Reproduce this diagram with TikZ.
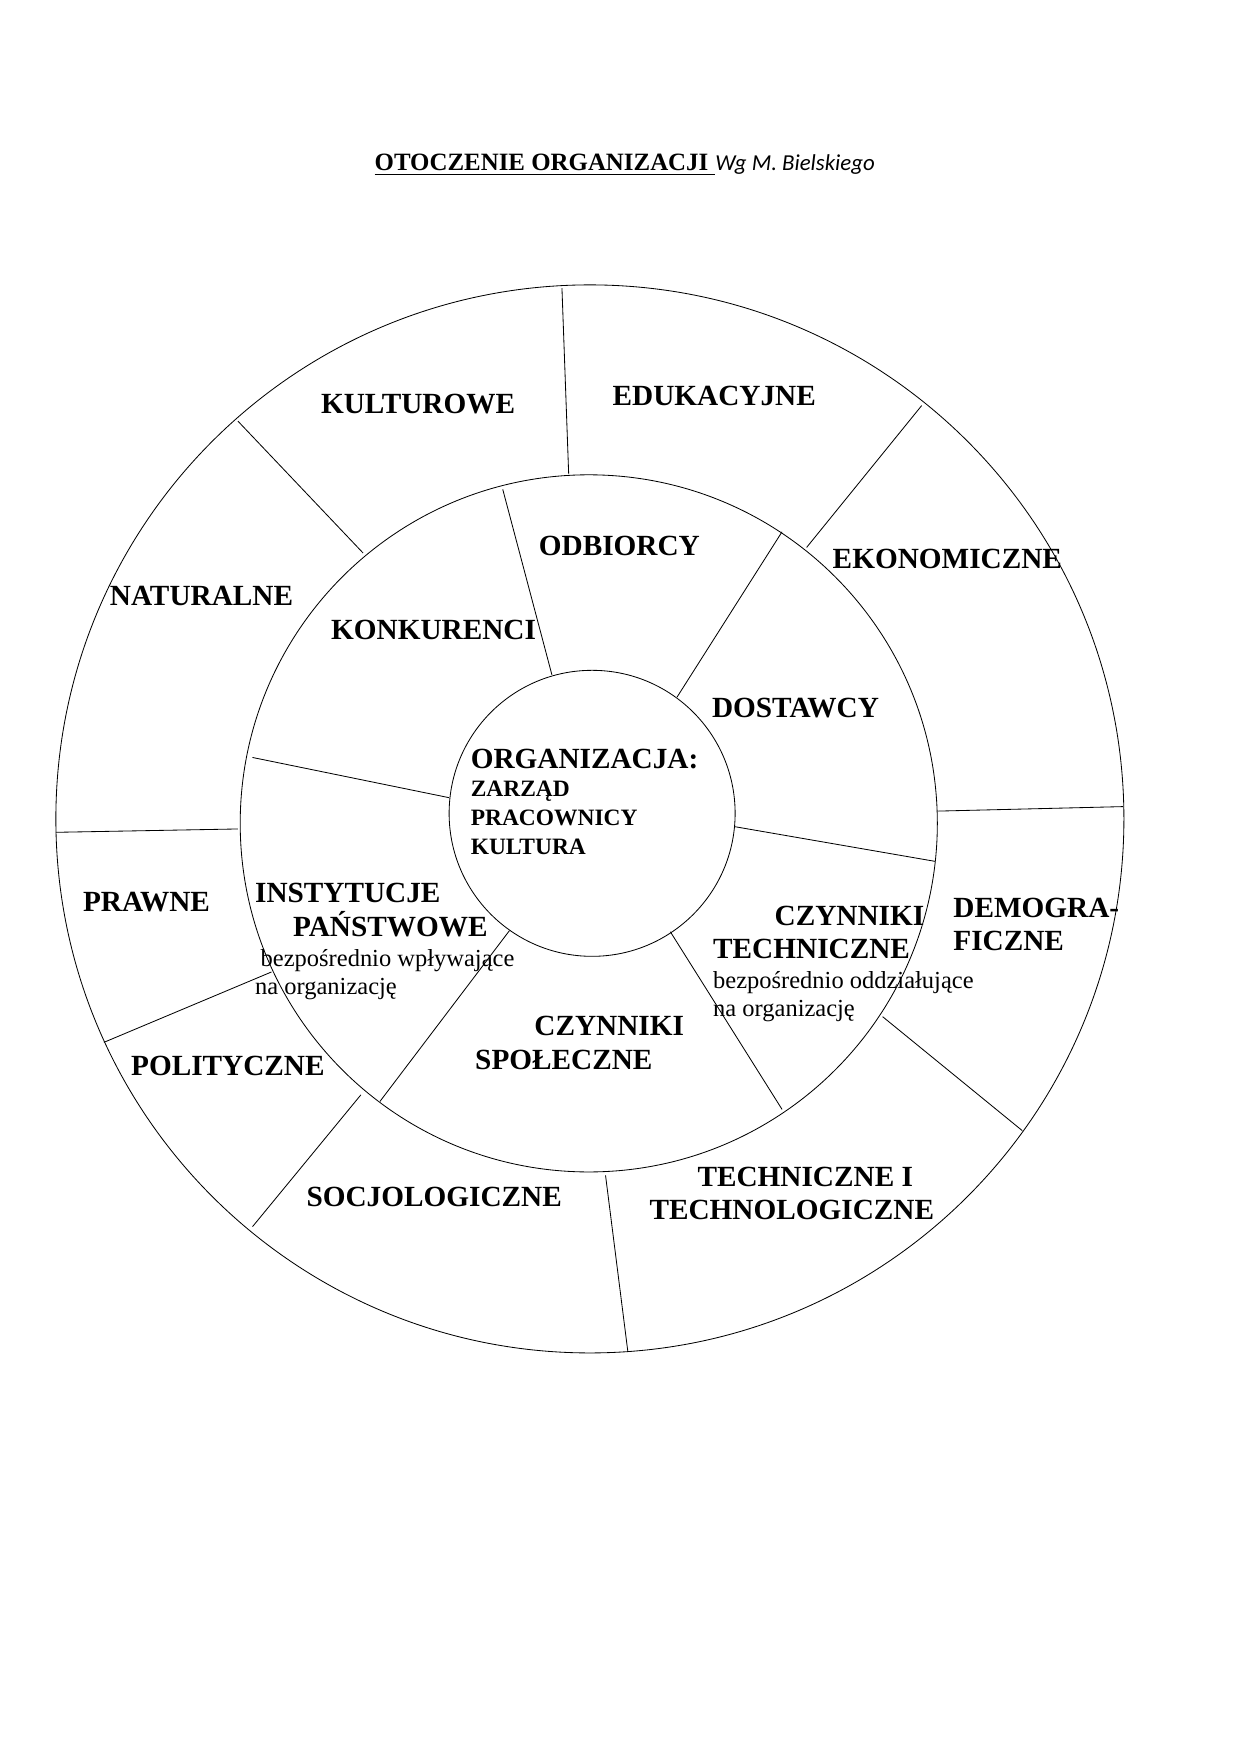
\documentclass[tikz,border=0pt]{standalone}
\usepackage{fontspec}
\setmainfont{Liberation Serif}
\setsansfont{Carlito}
\usepackage{tikz}
\tikzset{
  big/.style={anchor=base west, inner sep=0pt, font=\fontsize{14.1}{16}\selectfont\bfseries},
  mid/.style={anchor=base west, inner sep=0pt, font=\fontsize{11.3}{13}\selectfont\bfseries},
  plain/.style={anchor=base west, inner sep=0pt, font=\fontsize{11.8}{13}\selectfont},
}
\begin{document}
\begin{tikzpicture}[x=0.01892cm, y=-0.01892cm]
            \useasboundingbox (0,0) rectangle (1110,1570);
            %circles
            \draw (528,733) circle [radius=478];
            \draw (527,737) circle [radius=312];
            \draw (530,728) circle [radius=128];

            %outer spokes
            \draw (503,258) -- (509,424);
            \draw (825,363) -- (722,490);
            \draw (840,726) -- (1005,722);
            \draw (790,910) -- (915,1012);
            \draw (542,1052) -- (562,1210);
            \draw (323,980) -- (226,1098);
            \draw (243,870) -- (93,933);
            \draw (213,742) -- (50,745);
            \draw (213,377) -- (325,495);

            %inner spokes
            \draw (450,438) -- (494,604);
            \draw (700,476) -- (606,624);
            \draw (658,740) -- (837,771);
            \draw (600,834) -- (700,993);
            \draw (456,833) -- (340,986);
            \draw (402,714) -- (226,678);

            %title
            \node[big, font=\fontsize{12}{14}\selectfont\bfseries] (title) at (335,153) {\underline{OTOCZENIE ORGANIZACJI }};
            \node[anchor=base west, inner sep=0pt, font=\sffamily\itshape\fontsize{11}{13}\selectfont] (author) at (title.base east) {Wg M. Bielskiego};

            %labels
            \node[big] (kult) at (287,370) {KULTUROWE};
            \node[big] (eduk) at (548,363) {EDUKACYJNE};
            \node[big] (odb) at (482,497) {ODBIORCY};
            \node[big] (ekon) at (745,509) {EKONOMICZNE};
            \node[big] (natur) at (98,542) {NATURALNE};
            \node[big] (konk) at (296,572) {KONKURENCI};
            \node[big] (dost) at (637,642) {DOSTAWCY};
            \node[big] (org) at (421,688) {ORGANIZACJA:};
            \node[mid] (zarz) at (421,713) {ZARZĄD};
            \node[mid] (prac) at (421,739) {PRACOWNICY};
            \node[mid] (kultura) at (421,765) {KULTURA};
            \node[big] (prawne) at (74,816) {PRAWNE};
            \node[big] (inst) at (228,808) {INSTYTUCJE};
            \node[big] (pans) at (262,838) {PAŃSTWOWE};
            \node[plain] (wpl) at (233,865) {bezpośrednio wpływające};
            \node[plain] (naorg) at (228,890) {na organizację};
            \node[big] (czt) at (693,828) {CZYNNIKI};
            \node[big] (tech) at (638,858) {TECHNICZNE};
            \node[plain] (oddz) at (638,885) {bezpośrednio oddziałujące};
            \node[plain] (naorg2) at (638,910) {na organizację};
            \node[big] (demo) at (853,821) {DEMOGRA-};
            \node[big] (ficz) at (853,851) {FICZNE};
            \node[big] (czs) at (478,927) {CZYNNIKI};
            \node[big] (spol) at (425,957) {SPOŁECZNE};
            \node[big] (polit) at (117,963) {POLITYCZNE};
            \node[big] (socj) at (274,1080) {SOCJOLOGICZNE};
            \node[big] (techi) at (624,1062) {TECHNICZNE I};
            \node[big] (techn) at (581,1092) {TECHNOLOGICZNE};
\end{tikzpicture}
\end{document}
